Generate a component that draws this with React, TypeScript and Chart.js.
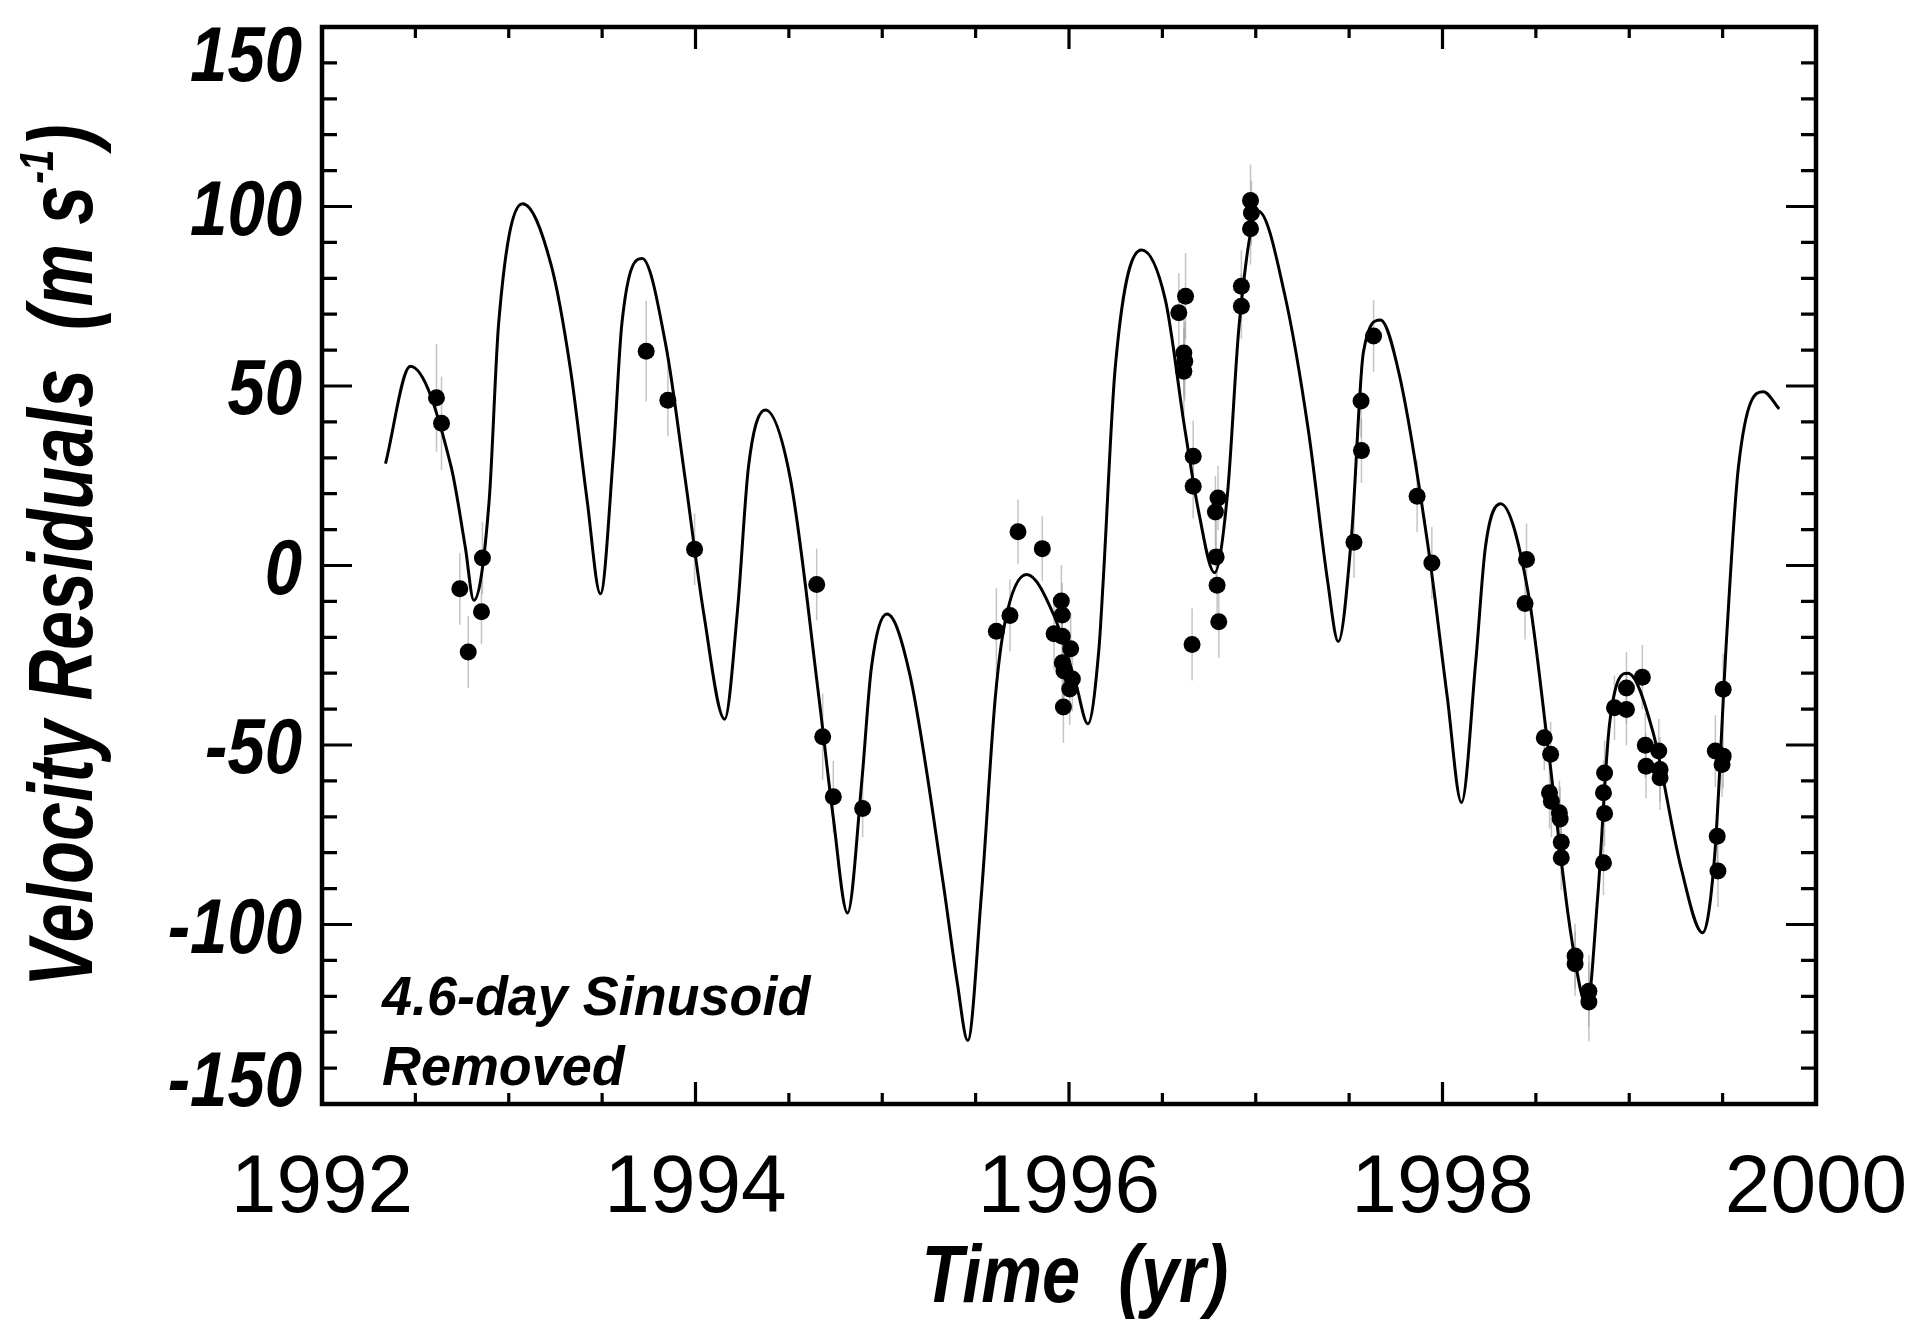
import React, { useEffect, useRef } from "react";
import { Chart, registerables } from "chart.js";

Chart.register(...registerables);

// ---- Observed velocity residuals (time in yr, value in m/s, 1-sigma error in m/s)
const obsTime = [
  1992.613, 1992.640, 1992.738, 1992.783, 1992.854, 1992.859,
  1993.736, 1993.852, 1993.995,
  1994.649, 1994.681, 1994.738, 1994.895,
  1995.611, 1995.684, 1995.727, 1995.857,
  1995.920, 1995.959, 1995.964, 1995.964, 1995.964, 1995.970, 1995.973, 1996.004, 1996.009, 1996.018,
  1996.588, 1996.615, 1996.615, 1996.620, 1996.624,
  1996.659, 1996.665, 1996.665,
  1996.784, 1996.788, 1996.793, 1996.798, 1996.802,
  1996.923, 1996.923, 1996.972, 1996.977, 1996.972,
  1997.526, 1997.566, 1997.564, 1997.631,
  1997.864, 1997.943,
  1998.442, 1998.450,
  1998.545, 1998.579, 1998.573, 1998.583, 1998.626, 1998.630, 1998.636, 1998.636,
  1998.710, 1998.710, 1998.784, 1998.784,
  1998.862, 1998.862, 1998.868, 1998.868,
  1998.921, 1998.985, 1998.985, 1999.070,
  1999.086, 1999.090, 1999.158, 1999.165, 1999.165,
  1999.461, 1999.471, 1999.475, 1999.497, 1999.503, 1999.503,
];
const obsVel = [
  46.7, 39.6, -6.5, -24.1, -12.9, 2.1,
  59.7, 46.0, 4.5,
  -5.3, -47.7, -64.4, -67.7,
  -18.3, -13.9, 9.4, 4.7,
  -19.0, -9.9, -13.8, -19.7, -27.1, -39.4, -29.4, -34.4, -23.2, -31.6,
  70.4, 59.2, 54.1, 56.9, 75.0,
  -22.0, 30.4, 22.1,
  14.9, 2.4, -5.5, 18.8, -15.7,
  77.8, 72.2, 101.7, 98.2, 93.8,
  6.5, 32.0, 45.8, 63.9,
  19.3, 0.7,
  -10.6, 1.7,
  -48.0, -52.6, -63.3, -65.7, -68.9, -70.6, -77.1, -81.4,
  -108.8, -110.9, -118.6, -121.6,
  -82.8, -63.3, -57.8, -69.1,
  -39.6, -40.1, -34.1, -31.1,
  -50.1, -55.9, -51.7, -56.8, -59.1,
  -51.7, -75.4, -85.1, -55.4, -34.5, -53.1,
];
const obsErr = [
  15, 13, 10, 10, 9, 10,
  14, 10, 10,
  10, 12, 10, 8,
  12, 10, 9, 9,
  10, 10, 9, 9, 10, 10, 9, 10, 10, 9,
  11, 12, 12, 11, 12,
  10, 10, 9,
  10, 10, 9, 9, 10,
  10, 9, 10, 9, 10,
  10, 9, 10, 10,
  10, 10,
  10, 10,
  9, 9, 10, 10, 9, 9, 9, 9,
  9, 9, 10, 11,
  9, 9, 9, 9,
  9, 10, 10, 9,
  9, 9, 9, 9, 9,
  10, 9, 10, 9, 10, 9,
];

// ---- Fitted model curve (time in yr, value in m/s)
const fitTime = [
  1992.340, 1992.473, 1992.691, 1992.767, 1992.813, 1992.895, 1992.946,
  1993.074, 1993.228, 1993.330, 1993.420, 1993.491, 1993.560, 1993.606,
  1993.714, 1993.842, 1993.944, 1994.046, 1994.156, 1994.225, 1994.284,
  1994.374, 1994.507, 1994.660, 1994.737, 1994.814, 1994.890, 1994.942,
  1995.026, 1995.146, 1995.325, 1995.402, 1995.458, 1995.530, 1995.606,
  1995.658, 1995.773, 1995.920, 1996.036, 1996.101, 1996.160, 1996.183,
  1996.247, 1996.388, 1996.516, 1996.618, 1996.695, 1996.779, 1996.848,
  1996.912, 1997.014, 1997.155, 1997.283, 1997.385, 1997.442, 1997.513,
  1997.577, 1997.667, 1997.769, 1997.923, 1998.025, 1998.102, 1998.178,
  1998.230, 1998.311, 1998.459, 1998.562, 1998.690, 1998.774, 1998.831,
  1998.894, 1998.992, 1999.125, 1999.278, 1999.393, 1999.457, 1999.521,
  1999.585, 1999.718, 1999.803,
];
const fitVel = [
  28.4, 55.5, 27.6, 5.2, -9.7, 18.0, 67.5,
  100.8, 83.5, 54.8, 18.0, -7.9, 30.8, 67.5,
  85.5, 61.1, 24.4, -14.0, -42.8, -12.4, 27.6,
  43.3, 24.4, -36.4, -69.9, -96.8, -60.4, -28.4,
  -13.5, -30.0, -88.0, -116.3, -132.3, -92.3, -36.4,
  -15.6, -2.5, -14.0, -32.7, -44.1, -23.4, -4.4,
  54.8, 87.9, 74.0, 38.8, 14.8, -2.0, 19.6,
  67.5, 98.7, 75.5, 37.2, -4.4, -21.2, 8.4,
  59.6, 68.4, 53.1, 5.2, -36.4, -66.0, -26.8,
  5.2, 17.2, -7.6, -49.2, -103.5, -122.7, -92.3,
  -44.4, -30.0, -46.0, -84.3, -102.3, -81.1, -20.4,
  27.6, 48.4, 43.6,
];

// ---- Axes
const xMin = 1992;
const xMax = 2000;
const xTickLabels = [1992, 1994, 1996, 1998, 2000];
const xMinorStep = 0.5;
const yMin = -150;
const yMax = 150;
const yTickLabels = [150, 100, 50, 0, -50, -100, -150];
const yMinorStep = 10;

const xAxisTitle = "Time  (yr)";
const yAxisTitleMain = "Velocity Residuals  (m s";
const yAxisTitleSup = "-1";
const yAxisTitleEnd = ")";
const noteLines = ["4.6-day Sinusoid", "Removed"];

const FONT = "'Liberation Sans', Arial, Helvetica, sans-serif";

function drawScaledText(
  ctx: CanvasRenderingContext2D,
  text: string,
  x: number,
  y: number,
  font: string,
  align: CanvasTextAlign,
  scaleX: number
) {
  ctx.save();
  ctx.font = font;
  ctx.translate(x, y);
  ctx.scale(scaleX, 1);
  ctx.textAlign = align;
  ctx.textBaseline = "alphabetic";
  ctx.fillStyle = "#000";
  ctx.fillText(text, 0, 0);
  ctx.restore();
}

const errorBarPlugin = {
  id: "errorBars",
  beforeDatasetsDraw(chart: any) {
    const ctx: CanvasRenderingContext2D = chart.ctx;
    const xs = chart.scales.x;
    const ys = chart.scales.y;
    const ca = chart.chartArea;
    ctx.save();
    ctx.beginPath();
    ctx.rect(ca.left, ca.top, ca.right - ca.left, ca.bottom - ca.top);
    ctx.clip();
    ctx.strokeStyle = "rgba(150,150,150,0.55)";
    ctx.lineWidth = 1.5;
    for (let i = 0; i < obsTime.length; i++) {
      const px = xs.getPixelForValue(obsTime[i]);
      const y1 = ys.getPixelForValue(obsVel[i] + obsErr[i]);
      const y2 = ys.getPixelForValue(obsVel[i] - obsErr[i]);
      ctx.beginPath();
      ctx.moveTo(px, y1);
      ctx.lineTo(px, y2);
      ctx.stroke();
    }
    ctx.restore();
  },
};

const framePlugin = {
  id: "frameAndLabels",
  afterDraw(chart: any) {
    const ctx: CanvasRenderingContext2D = chart.ctx;
    const xs = chart.scales.x;
    const ys = chart.scales.y;
    const ca = chart.chartArea;
    ctx.save();

    // frame
    ctx.strokeStyle = "#000";
    ctx.lineWidth = 4.5;
    ctx.strokeRect(ca.left, ca.top, ca.right - ca.left, ca.bottom - ca.top);

    // ticks
    ctx.lineWidth = 3.2;
    ctx.lineCap = "butt";
    const nx = Math.round((xMax - xMin) / xMinorStep);
    for (let i = 0; i <= nx; i++) {
      const v = xMin + i * xMinorStep;
      const major = xTickLabels.some((t) => Math.abs(t - v) < 1e-6);
      const len = major ? 22 : 11;
      const px = xs.getPixelForValue(v);
      ctx.beginPath();
      ctx.moveTo(px, ca.bottom);
      ctx.lineTo(px, ca.bottom - len);
      ctx.moveTo(px, ca.top);
      ctx.lineTo(px, ca.top + len);
      ctx.stroke();
    }
    const ny = Math.round((yMax - yMin) / yMinorStep);
    for (let i = 0; i <= ny; i++) {
      const v = yMin + i * yMinorStep;
      const major = yTickLabels.some((t) => Math.abs(t - v) < 1e-6);
      const len = major ? 30 : 15;
      const py = ys.getPixelForValue(v);
      ctx.beginPath();
      ctx.moveTo(ca.left, py);
      ctx.lineTo(ca.left + len, py);
      ctx.moveTo(ca.right, py);
      ctx.lineTo(ca.right - len, py);
      ctx.stroke();
    }

    // y tick labels (bold italic, condensed; end labels kept inside the frame height)
    const yFont = `italic bold 78px ${FONT}`;
    const h = 56;
    for (const v of yTickLabels) {
      const py = ys.getPixelForValue(v);
      let base = py + h / 2;
      if (base - h < ca.top - 2) base = ca.top - 2 + h;
      if (base > ca.bottom + 2) base = ca.bottom + 2;
      drawScaledText(ctx, String(v), ca.left - 20, base, yFont, "right", 0.86);
    }

    // x tick labels
    const xFont = `82px ${FONT}`;
    for (const v of xTickLabels) {
      const px = xs.getPixelForValue(v);
      drawScaledText(ctx, String(v), px, ca.bottom + 108, xFont, "center", 1);
    }

    // x title
    drawScaledText(
      ctx,
      xAxisTitle,
      (ca.left + ca.right) / 2 + 6,
      ca.bottom + 198,
      `italic bold 81px ${FONT}`,
      "center",
      0.845
    );

    // y title (rotated, with superscript)
    {
      const sx = 0.78;
      const mainFont = `italic bold 90px ${FONT}`;
      const supFont = `italic bold 49px ${FONT}`;
      ctx.save();
      ctx.font = mainFont;
      const w1 = ctx.measureText(yAxisTitleMain).width;
      const w3 = ctx.measureText(yAxisTitleEnd).width;
      ctx.font = supFont;
      const w2 = ctx.measureText(yAxisTitleSup).width;
      const total = (w1 + w2 + w3) * sx;
      const cy = (ca.top + ca.bottom) / 2 - 8;
      ctx.translate(92, cy);
      ctx.rotate(-Math.PI / 2);
      let x0 = -total / 2;
      drawScaledText(ctx, yAxisTitleMain, x0, 0, mainFont, "left", sx);
      x0 += w1 * sx;
      drawScaledText(ctx, yAxisTitleSup, x0 + 2, -39, supFont, "left", sx);
      x0 += w2 * sx + 4;
      drawScaledText(ctx, yAxisTitleEnd, x0, 0, mainFont, "left", sx);
      ctx.restore();
    }

    // annotation
    const noteFont = `italic bold 55px ${FONT}`;
    noteLines.forEach((line, i) => {
      drawScaledText(ctx, line, ca.left + 60, ca.bottom - 89 + i * 70, noteFont, "left", 0.98);
    });

    ctx.restore();
  },
};

export default function App() {
  const canvasRef = useRef<HTMLCanvasElement | null>(null);

  useEffect(() => {
    document.body.style.margin = "0";
    const canvas = canvasRef.current;
    if (!canvas) return;
    const fitData = fitTime.map((t, i) => ({ x: t, y: fitVel[i] }));
    const obsData = obsTime.map((t, i) => ({ x: t, y: obsVel[i] }));
    const chart = new Chart(canvas, {
      type: "scatter",
      data: {
        datasets: [
          {
            label: "Model",
            data: fitData,
            showLine: true,
            borderColor: "#000",
            borderWidth: 3,
            pointRadius: 0,
            pointHoverRadius: 0,
            cubicInterpolationMode: "monotone",
            fill: false,
            order: 2,
          } as any,
          {
            label: "Residuals",
            data: obsData,
            showLine: false,
            pointRadius: 8.5,
            pointHoverRadius: 8.5,
            pointBackgroundColor: "#000",
            pointBorderWidth: 0,
            backgroundColor: "#000",
            borderColor: "#000",
            order: 1,
          } as any,
        ],
      },
      options: {
        animation: false,
        responsive: false,
        devicePixelRatio: 1,
        events: [],
        layout: { padding: { left: 322, right: 104, top: 27, bottom: 221 } },
        scales: {
          x: { type: "linear", min: xMin, max: xMax, display: false },
          y: { type: "linear", min: yMin, max: yMax, display: false },
        },
        plugins: {
          legend: { display: false },
          tooltip: { enabled: false },
        },
      },
      plugins: [errorBarPlugin, framePlugin],
    });
    return () => chart.destroy();
  }, []);

  return (
    <div style={{ position: "absolute", left: 0, top: 0, width: 1920, height: 1325, background: "#fff" }}>
      <canvas ref={canvasRef} width={1920} height={1325} style={{ width: 1920, height: 1325, display: "block" }} />
    </div>
  );
}
